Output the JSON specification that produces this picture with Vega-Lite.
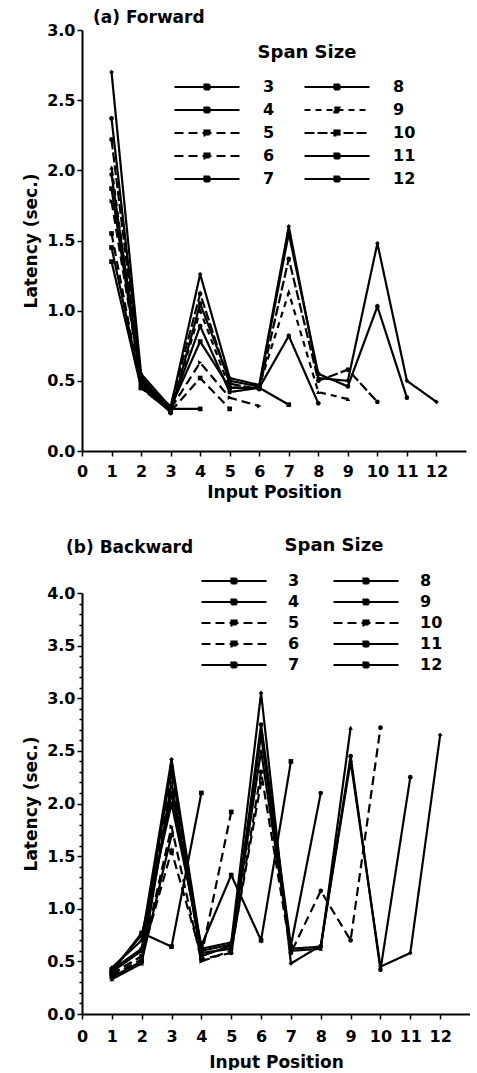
{
  "$schema": "https://vega.github.io/schema/vega-lite/v6.json",
  "background": "white",
  "padding": {"left": 22, "top": 9, "right": 0, "bottom": 0},
  "spacing": 37,
  "resolve": {
    "scale": {"strokeDash": "independent"},
    "legend": {"strokeDash": "independent"}
  },
  "config": {
    "font": "DejaVu Sans",
    "view": {"stroke": null},
    "axis": {
      "labelFont": "DejaVu Sans", "labelFontWeight": "bold", "labelFontSize": 16, "labelColor": "black",
      "titleFont": "DejaVu Sans", "titleFontSize": 17, "titleFontWeight": "bold", "titleColor": "black",
      "domainColor": "black", "domainWidth": 2, "tickColor": "black", "tickWidth": 1.5, "tickSize": 5, "grid": false
    },
    "legend": {
      "labelFont": "DejaVu Sans", "labelFontWeight": "bold", "labelFontSize": 16, "labelColor": "black",
      "titleFont": "DejaVu Sans", "titleFontWeight": "bold", "titleFontSize": 18, "titleColor": "black"
    },
    "title": {"font": "DejaVu Sans", "fontWeight": "bold", "fontSize": 17, "color": "black", "frame": "group"}
  },
  "datasets": {
    "forward": [
      {"span": 3, "pos": 1, "lat": 1.35}, {"span": 3, "pos": 2, "lat": 0.45}, {"span": 3, "pos": 3, "lat": 0.30},
      {"span": 4, "pos": 1, "lat": 1.45}, {"span": 4, "pos": 2, "lat": 0.47}, {"span": 4, "pos": 3, "lat": 0.30}, {"span": 4, "pos": 4, "lat": 0.30},
      {"span": 5, "pos": 1, "lat": 1.55}, {"span": 5, "pos": 2, "lat": 0.45}, {"span": 5, "pos": 3, "lat": 0.28}, {"span": 5, "pos": 4, "lat": 0.52}, {"span": 5, "pos": 5, "lat": 0.30},
      {"span": 6, "pos": 1, "lat": 1.78}, {"span": 6, "pos": 2, "lat": 0.50}, {"span": 6, "pos": 3, "lat": 0.30}, {"span": 6, "pos": 4, "lat": 0.63}, {"span": 6, "pos": 5, "lat": 0.38}, {"span": 6, "pos": 6, "lat": 0.32},
      {"span": 7, "pos": 1, "lat": 1.87}, {"span": 7, "pos": 2, "lat": 0.48}, {"span": 7, "pos": 3, "lat": 0.31}, {"span": 7, "pos": 4, "lat": 0.78}, {"span": 7, "pos": 5, "lat": 0.45}, {"span": 7, "pos": 6, "lat": 0.45}, {"span": 7, "pos": 7, "lat": 0.33},
      {"span": 8, "pos": 1, "lat": 1.97}, {"span": 8, "pos": 2, "lat": 0.52}, {"span": 8, "pos": 3, "lat": 0.30}, {"span": 8, "pos": 4, "lat": 0.89}, {"span": 8, "pos": 5, "lat": 0.42}, {"span": 8, "pos": 6, "lat": 0.45}, {"span": 8, "pos": 7, "lat": 0.82}, {"span": 8, "pos": 8, "lat": 0.34},
      {"span": 9, "pos": 1, "lat": 2.02}, {"span": 9, "pos": 2, "lat": 0.45}, {"span": 9, "pos": 3, "lat": 0.28}, {"span": 9, "pos": 4, "lat": 1.00}, {"span": 9, "pos": 5, "lat": 0.45}, {"span": 9, "pos": 6, "lat": 0.46}, {"span": 9, "pos": 7, "lat": 1.13}, {"span": 9, "pos": 8, "lat": 0.42}, {"span": 9, "pos": 9, "lat": 0.37},
      {"span": 10, "pos": 1, "lat": 2.22}, {"span": 10, "pos": 2, "lat": 0.50}, {"span": 10, "pos": 3, "lat": 0.32}, {"span": 10, "pos": 4, "lat": 1.12}, {"span": 10, "pos": 5, "lat": 0.48}, {"span": 10, "pos": 6, "lat": 0.44}, {"span": 10, "pos": 7, "lat": 1.37}, {"span": 10, "pos": 8, "lat": 0.50}, {"span": 10, "pos": 9, "lat": 0.58}, {"span": 10, "pos": 10, "lat": 0.35},
      {"span": 11, "pos": 1, "lat": 2.37}, {"span": 11, "pos": 2, "lat": 0.53}, {"span": 11, "pos": 3, "lat": 0.27}, {"span": 11, "pos": 4, "lat": 1.05}, {"span": 11, "pos": 5, "lat": 0.50}, {"span": 11, "pos": 6, "lat": 0.46}, {"span": 11, "pos": 7, "lat": 1.55}, {"span": 11, "pos": 8, "lat": 0.55}, {"span": 11, "pos": 9, "lat": 0.46}, {"span": 11, "pos": 10, "lat": 1.03}, {"span": 11, "pos": 11, "lat": 0.38},
      {"span": 12, "pos": 1, "lat": 2.70}, {"span": 12, "pos": 2, "lat": 0.55}, {"span": 12, "pos": 3, "lat": 0.31}, {"span": 12, "pos": 4, "lat": 1.26}, {"span": 12, "pos": 5, "lat": 0.52}, {"span": 12, "pos": 6, "lat": 0.47}, {"span": 12, "pos": 7, "lat": 1.60}, {"span": 12, "pos": 8, "lat": 0.52}, {"span": 12, "pos": 9, "lat": 0.50}, {"span": 12, "pos": 10, "lat": 1.48}, {"span": 12, "pos": 11, "lat": 0.50}, {"span": 12, "pos": 12, "lat": 0.35}
    ],
    "backward": [
      {"span": 3, "pos": 1, "lat": 0.35}, {"span": 3, "pos": 2, "lat": 0.50}, {"span": 3, "pos": 3, "lat": 1.70},
      {"span": 4, "pos": 1, "lat": 0.40}, {"span": 4, "pos": 2, "lat": 0.77}, {"span": 4, "pos": 3, "lat": 0.64}, {"span": 4, "pos": 4, "lat": 2.10},
      {"span": 5, "pos": 1, "lat": 0.38}, {"span": 5, "pos": 2, "lat": 0.55}, {"span": 5, "pos": 3, "lat": 1.55}, {"span": 5, "pos": 4, "lat": 0.55}, {"span": 5, "pos": 5, "lat": 1.92},
      {"span": 6, "pos": 1, "lat": 0.36}, {"span": 6, "pos": 2, "lat": 0.52}, {"span": 6, "pos": 3, "lat": 1.78}, {"span": 6, "pos": 4, "lat": 0.50}, {"span": 6, "pos": 5, "lat": 0.60}, {"span": 6, "pos": 6, "lat": 2.20},
      {"span": 7, "pos": 1, "lat": 0.42}, {"span": 7, "pos": 2, "lat": 0.75}, {"span": 7, "pos": 3, "lat": 2.00}, {"span": 7, "pos": 4, "lat": 0.65}, {"span": 7, "pos": 5, "lat": 1.32}, {"span": 7, "pos": 6, "lat": 0.70}, {"span": 7, "pos": 7, "lat": 2.40},
      {"span": 8, "pos": 1, "lat": 0.40}, {"span": 8, "pos": 2, "lat": 0.60}, {"span": 8, "pos": 3, "lat": 2.10}, {"span": 8, "pos": 4, "lat": 0.58}, {"span": 8, "pos": 5, "lat": 0.62}, {"span": 8, "pos": 6, "lat": 2.75}, {"span": 8, "pos": 7, "lat": 0.65}, {"span": 8, "pos": 8, "lat": 2.10},
      {"span": 9, "pos": 1, "lat": 0.33}, {"span": 9, "pos": 2, "lat": 0.48}, {"span": 9, "pos": 3, "lat": 2.20}, {"span": 9, "pos": 4, "lat": 0.55}, {"span": 9, "pos": 5, "lat": 0.65}, {"span": 9, "pos": 6, "lat": 2.50}, {"span": 9, "pos": 7, "lat": 0.60}, {"span": 9, "pos": 8, "lat": 0.62}, {"span": 9, "pos": 9, "lat": 2.72},
      {"span": 10, "pos": 1, "lat": 0.38}, {"span": 10, "pos": 2, "lat": 0.55}, {"span": 10, "pos": 3, "lat": 2.30}, {"span": 10, "pos": 4, "lat": 0.52}, {"span": 10, "pos": 5, "lat": 0.58}, {"span": 10, "pos": 6, "lat": 2.30}, {"span": 10, "pos": 7, "lat": 0.58}, {"span": 10, "pos": 8, "lat": 1.17}, {"span": 10, "pos": 9, "lat": 0.70}, {"span": 10, "pos": 10, "lat": 2.72},
      {"span": 11, "pos": 1, "lat": 0.42}, {"span": 11, "pos": 2, "lat": 0.62}, {"span": 11, "pos": 3, "lat": 2.35}, {"span": 11, "pos": 4, "lat": 0.60}, {"span": 11, "pos": 5, "lat": 0.66}, {"span": 11, "pos": 6, "lat": 2.65}, {"span": 11, "pos": 7, "lat": 0.62}, {"span": 11, "pos": 8, "lat": 0.64}, {"span": 11, "pos": 9, "lat": 2.45}, {"span": 11, "pos": 10, "lat": 0.42}, {"span": 11, "pos": 11, "lat": 2.25},
      {"span": 12, "pos": 1, "lat": 0.44}, {"span": 12, "pos": 2, "lat": 0.70}, {"span": 12, "pos": 3, "lat": 2.42}, {"span": 12, "pos": 4, "lat": 0.62}, {"span": 12, "pos": 5, "lat": 0.68}, {"span": 12, "pos": 6, "lat": 3.05}, {"span": 12, "pos": 7, "lat": 0.48}, {"span": 12, "pos": 8, "lat": 0.65}, {"span": 12, "pos": 9, "lat": 2.40}, {"span": 12, "pos": 10, "lat": 0.45}, {"span": 12, "pos": 11, "lat": 0.58}, {"span": 12, "pos": 12, "lat": 2.65}
    ]
  },
  "vconcat": [
    {
      "width": 384,
      "height": 421,
      "title": {"text": "(a) Forward", "anchor": "start", "dx": 11, "offset": -5},
      "data": {"name": "forward"},
      "encoding": {
        "x": {"field": "pos", "type": "quantitative", "scale": {"domain": [0, 13], "nice": false},
              "axis": {"values": [0, 1, 2, 3, 4, 5, 6, 7, 8, 9, 10, 11, 12], "format": "d", "title": "Input Position",
                       "labelOverlap": false, "labelFlush": false, "labelPadding": 7, "titlePadding": 5}},
        "y": {"field": "lat", "type": "quantitative", "scale": {"domain": [0, 3], "nice": false},
              "axis": {"values": [0, 0.5, 1, 1.5, 2, 2.5, 3], "format": ".1f", "title": "Latency (sec.)", "labelOverlap": false, "titlePadding": 6}}
      },
      "layer": [
        {
          "mark": {"type": "line", "color": "black", "strokeWidth": 2.2},
          "encoding": {
            "strokeDash": {
              "field": "span", "type": "nominal",
              "scale": {
                "domain": [3, 4, 5, 6, 7, 8, 9, 10, 11, 12],
                "range": [[1, 0], [1, 0], [9, 5], [9, 5], [1, 0], [1, 0], [6, 5], [10, 3], [1, 0], [1, 0]]
              },
              "legend": {
                "orient": "none", "legendX": 117, "legendY": 14, "columns": 2,
                "title": "Span Size", "titleAnchor": "middle", "titlePadding": 17,
                "symbolType": "M-6.5,0H6.5M-0.5,-0.5H0.5V0.5H-0.5Z", "symbolSize": 100,
                "symbolStrokeColor": "black", "symbolFillColor": "black", "symbolStrokeWidth": 2.2,
                "labelOffset": 48, "columnPadding": 25, "rowPadding": 7
              }
            }
          }
        },
        {
          "mark": {"type": "point", "filled": true, "color": "black", "size": 22, "opacity": 1},
          "encoding": {
            "shape": {"field": "span", "type": "nominal",
                      "scale": {"domain": [3, 4, 5, 6, 7, 8, 9, 10, 11, 12],
                                "range": ["square", "square", "square", "triangle-right", "square", "circle", "triangle-up", "circle", "circle", "diamond"]},
                      "legend": null}
          }
        }
      ]
    },
    {
      "width": 388,
      "height": 421,
      "title": {"text": "(b) Backward", "anchor": "start", "dx": -16, "offset": -20},
      "data": {"name": "backward"},
      "resolve": {"axis": {"y": "independent"}},
      "layer": [
        {
          "encoding": {
            "x": {"field": "pos", "type": "quantitative", "scale": {"domain": [0, 13], "nice": false},
                  "axis": {"values": [0, 1, 2, 3, 4, 5, 6, 7, 8, 9, 10, 11, 12], "format": "d", "title": "Input Position",
                           "labelOverlap": false, "labelFlush": false, "labelPadding": 9, "titlePadding": 10}},
            "y": {"field": "lat", "type": "quantitative", "scale": {"domain": [0, 4], "nice": false},
                  "axis": {"orient": "left", "values": [0, 0.5, 1, 1.5, 2, 2.5, 3, 3.5, 4], "format": ".1f", "title": "Latency (sec.)", "labelOverlap": false, "titlePadding": 6}}
          },
          "layer": [
            {
              "mark": {"type": "line", "color": "black", "strokeWidth": 2.2},
              "encoding": {
                "strokeDash": {
                  "field": "span", "type": "nominal",
                  "scale": {
                    "domain": [3, 4, 5, 6, 7, 8, 9, 10, 11, 12],
                    "range": [[1, 0], [1, 0], [9, 5], [9, 5], [1, 0], [1, 0], [1, 0], [9, 5], [1, 0], [1, 0]]
                  },
                  "legend": {
                    "orient": "none", "legendX": 144, "legendY": -56, "columns": 2,
                    "title": "Span Size", "titleAnchor": "middle", "titlePadding": 18,
                    "symbolType": "M-6.5,0H6.5M-0.5,-0.5H0.5V0.5H-0.5Z", "symbolSize": 100,
                    "symbolStrokeColor": "black", "symbolFillColor": "black", "symbolStrokeWidth": 2.2,
                    "labelOffset": 46, "columnPadding": 29, "rowPadding": 5
                  }
                }
              }
            },
            {
              "mark": {"type": "point", "filled": true, "color": "black", "size": 22, "opacity": 1},
              "encoding": {
                "shape": {"field": "span", "type": "nominal",
                          "scale": {"domain": [3, 4, 5, 6, 7, 8, 9, 10, 11, 12],
                                    "range": ["square", "square", "square", "triangle-right", "square", "circle", "triangle-up", "circle", "circle", "diamond"]},
                          "legend": null}
              }
            }
          ]
        },
        {
          "mark": {"type": "tick", "opacity": 0},
          "encoding": {
            "y": {"field": "lat", "type": "quantitative",
                  "axis": {"orient": "left", "values": [0.1, 0.2, 0.3, 0.4, 0.6, 0.7, 0.8, 0.9, 1.1, 1.2, 1.3, 1.4, 1.6, 1.7, 1.8, 1.9, 2.1, 2.2, 2.3, 2.4, 2.6, 2.7, 2.8, 2.9, 3.1, 3.2, 3.3, 3.4, 3.6, 3.7, 3.8, 3.9],
                           "labels": false, "domain": false, "title": null, "tickSize": 3, "tickWidth": 1.5}}
          }
        }
      ]
    }
  ]
}
